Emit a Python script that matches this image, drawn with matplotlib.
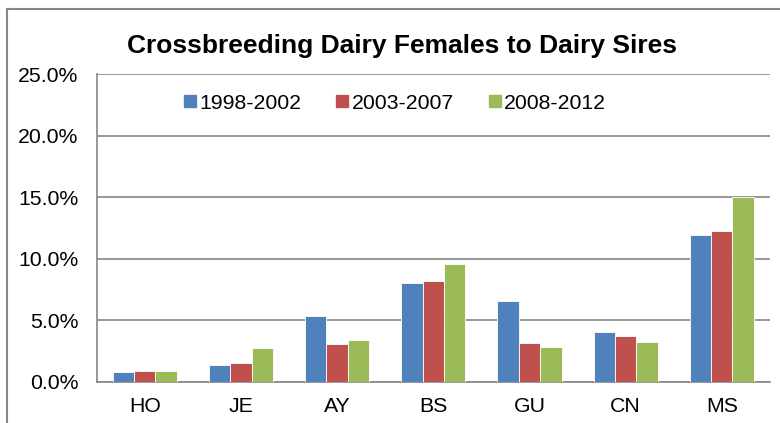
import matplotlib
matplotlib.use("Agg")
import matplotlib.pyplot as plt
import numpy as np
from matplotlib.lines import Line2D

categories = ["HO", "JE", "AY", "BS", "GU", "CN", "MS"]
series_names = ["1998-2002", "2003-2007", "2008-2012"]
s1998 = [0.81, 1.38, 5.30, 8.03, 6.57, 4.00, 11.89]
s2003 = [0.83, 1.49, 3.06, 8.16, 3.11, 3.67, 12.27]
s2008 = [0.89, 2.70, 3.38, 9.59, 2.81, 3.21, 15.00]
yticks = [0, 5, 10, 15, 20, 25]
title = "Crossbreeding Dairy Females to Dairy Sires"

colors = ["#4F81BD", "#C0504D", "#9BBB59"]

plt.rcParams['font.family'] = ['Liberation Sans', 'DejaVu Sans']

fig = plt.figure(figsize=(7.8, 4.23), dpi=100)
ax = fig.add_axes([0.124, 0.098, 0.863, 0.727])

x = np.arange(len(categories))
bw = 1 / 4.5
for i, (vals, c, name) in enumerate(zip([s1998, s2003, s2008], colors, series_names)):
    ax.bar(x + (i - 1) * bw, vals, width=bw, color=c, edgecolor="white",
           linewidth=0.6, label=name, zorder=3)

fs = 15.3
ax.set_xlim(-0.5, len(categories) - 0.5)
ax.set_ylim(0, 25)
ax.set_yticks(yticks)
ax.set_yticklabels([f"{v:.1f}%" for v in yticks], fontsize=fs)
ax.set_xticks(x)
ax.set_xticklabels(categories, fontsize=fs)
ax.tick_params(axis='y', length=0, pad=13)
ax.tick_params(axis='x', length=0, pad=11)
ax.grid(axis='y', color="#868686", linewidth=1.2, zorder=0)
for side in ["top", "right"]:
    ax.spines[side].set_visible(False)
ax.spines["left"].set_color("#868686")
ax.spines["bottom"].set_color("#868686")
ax.spines["left"].set_linewidth(1.2)
ax.spines["bottom"].set_linewidth(1.2)

handles = [Line2D([0], [0], marker='s', linestyle='none', markersize=8.6,
                  markerfacecolor=c, markeredgecolor=c) for c in colors]
fig.legend(handles, series_names, loc='center', bbox_to_anchor=(0.5045, 0.756),
           ncol=3, frameon=False, fontsize=fs, handletextpad=0.0,
           columnspacing=1.5, handlelength=0.85)

fig.text(0.516, 0.892, title, ha='center', va='center', fontsize=19,
         fontweight='bold')

# outer chart frame (left and top visible)
fig.add_artist(Line2D([0.0094, 0.0094], [0, 0.978], transform=fig.transFigure,
                      color="#868686", linewidth=1.5))
fig.add_artist(Line2D([0.0094, 1.0], [0.978, 0.978], transform=fig.transFigure,
                      color="#868686", linewidth=1.5))

fig.savefig("out.png", dpi=100)
